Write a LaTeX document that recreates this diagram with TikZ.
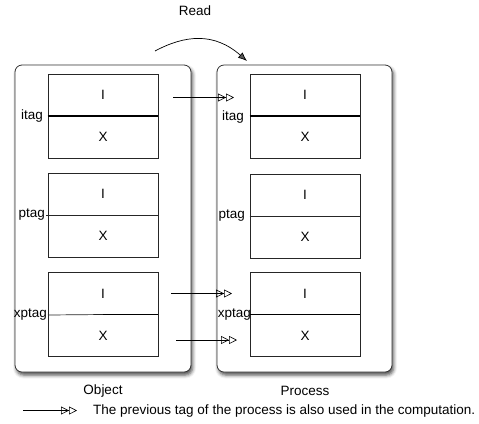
\documentclass[tikz,border=0pt]{standalone}
\usepackage{fontspec}
\setmainfont{Liberation Sans}
\usetikzlibrary{arrows.meta,shadows.blur,calc}
\begin{document}
\begin{tikzpicture}[x=1bp,y=-1bp,
  every node/.style={font=\fontsize{13.5bp}{15bp}\selectfont, inner sep=1bp},
  container/.style={draw=black!80, line width=0.8bp, rounded corners=7bp, fill=white,
    blur shadow={shadow xshift=1.5bp, shadow yshift=-3bp, shadow blur radius=3.5bp, shadow opacity=70}},
  cell/.style={draw=black!85, line width=0.7bp, minimum width=110bp, minimum height=84bp, inner sep=0pt},
  thin div/.style={line width=0.7bp, draw=black!85},
  thick div/.style={line width=1.4bp, draw=black},
  dbl/.style={line width=0.6bp, -{Triangle[open,length=8bp,width=8bp]Triangle[open,length=8bp,width=8bp]}},
  readarrow/.style={line width=0.7bp, -{Latex[length=9bp,width=7bp]}}
]
\useasboundingbox (0,0) rectangle (479,423);

% containers
\path[container] (15,65) rectangle (191,372);
\path[container] (217,65) rectangle (392,372);

% left cells
\node[cell] (o1) at (103,116) {};
\node[cell] (o2) at (103,215) {};
\node[cell] (o3) at (103,314.5) {};
% right cells
\node[cell] (p1) at (305,116) {};
\node[cell] (p2) at (305,216) {};
\node[cell] (p3) at (305,314.5) {};

% I / X texts
\foreach \b in {o1,o2,o3,p1,p2,p3}{
  \node (\b I) at ($(\b.center)+(0,-21)$) {I};
  \node (\b X) at ($(\b.center)+(0,21)$) {X};
}

% labels left
\node[anchor=east] (o1l) at (44,116) {itag};
\node[anchor=east] (o2l) at (46,215) {ptag};
\node[anchor=east] (o3l) at (48,315) {xptag};
% labels right
\node[anchor=east] (p1l) at (245,117) {itag};
\node[anchor=east] (p2l) at (246,216) {ptag};
\node[anchor=east] (p3l) at (252,315) {xptag};

% dividers
\draw[thick div] (o1.west) -- (o1.east);
\draw[thin div] (o2l.east) -- (o2.east);
\draw[thin div] (o3l.east) -- (o3.center);
\draw[thick div] (o3.center) -- (o3.east);
\draw[thick div] (p1.west) -- (p1.east);
\draw[thin div] (p2.west) -- (p2.east);
\draw[thick div] (p3.west) -- (p3.east);

% tag arrows
\coordinate (a1s) at (173,97.5);
\coordinate (a1e) at (234,97.5);
\coordinate (a2s) at (171,293.5);
\coordinate (a2e) at (232,293.5);
\coordinate (a3s) at (176,340);
\coordinate (a3e) at (237,340);
\draw[dbl] (a1s) -- (a1e);
\draw[dbl] (a2s) -- (a2e);
\draw[dbl] (a3s) -- (a3e);

% Read arrow
\node (read) at (195,11) {Read};
\coordinate (rs) at (155,51);
\coordinate (re) at (247,61);
\draw[readarrow] (rs) .. controls (185,35) and (214,32) .. (re);

% captions
\node (objcap) at (103,391) {Object};
\node (proccap) at (305,391) {Process};

% legend
\coordinate (ls) at (23,410.5);
\coordinate (le) at (77,410.5);
\draw[dbl] (ls) -- (le);
\node[anchor=west] (legtext) at (92,410.5) {The previous tag of the process is also used in the computation.};
\end{tikzpicture}
\end{document}
